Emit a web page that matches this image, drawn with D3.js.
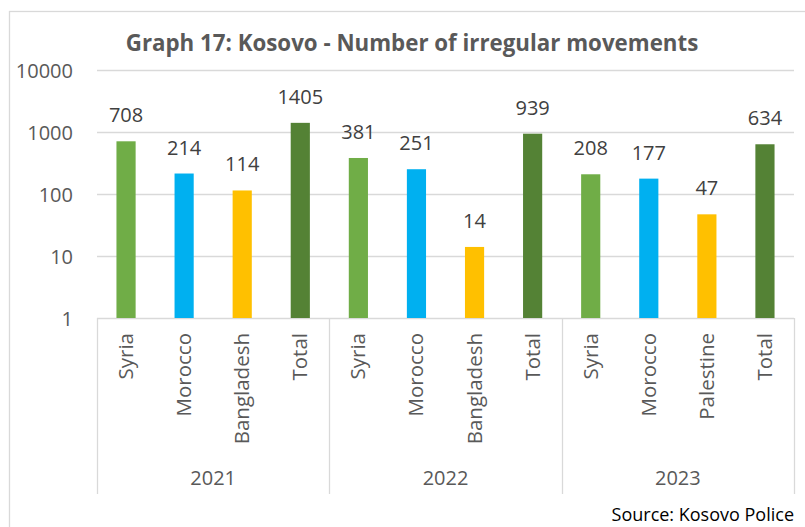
<!DOCTYPE html>
<html>
<head>
<meta charset="utf-8">
<script src="https://cdn.jsdelivr.net/npm/d3@7"></script>
<style>
  body { margin: 0; background: #fff; }
  text { font-family: "Open Sans", sans-serif; }
</style>
</head>
<body>
<div id="chart"></div>
<script>
// data
var years = ["2021", "2022", "2023"];
var countries = ["Syria", "Morocco", "Bangladesh", "Total",
                 "Syria", "Morocco", "Bangladesh", "Total",
                 "Syria", "Morocco", "Palestine", "Total"];
var values = [708, 214, 114, 1405, 381, 251, 14, 939, 208, 177, 47, 634];
var kinds = ["syria", "morocco", "other", "total",
             "syria", "morocco", "other", "total",
             "syria", "morocco", "other", "total"];
var yTicks = [1, 10, 100, 1000, 10000];

var colors = {syria: "#70ad47", morocco: "#00b0f0", other: "#ffc000", total: "#548235"};

var width = 805, height = 527;
var margin = {top: 70, right: 11, bottom: 209, left: 97};
var innerW = width - margin.left - margin.right,
    innerH = height - margin.top - margin.bottom;

var svg = d3.select("#chart").append("svg")
    .attr("width", width)
    .attr("height", height);

// outer chart border
svg.append("rect")
    .attr("x", 9.5).attr("y", 11.5)
    .attr("width", 820).attr("height", 540)
    .attr("fill", "none")
    .attr("stroke", "#d9d9d9")
    .attr("stroke-width", 1.3);

svg.append("text")
    .attr("x", 412).attr("y", 51)
    .attr("text-anchor", "middle")
    .style("font-size", "22.3px")
    .style("font-weight", "bold")
    .attr("fill", "#595959")
    .text("Graph 17: Kosovo - Number of irregular movements");

var g = svg.append("g")
    .attr("transform", "translate(" + margin.left + "," + margin.top + ")");

var idx = d3.range(values.length);
var x = d3.scaleBand().domain(idx).range([0, innerW])
    .paddingInner(0.67).paddingOuter(0.335);
var y = d3.scaleLog().domain([1, 10000]).range([innerH, 0]);

// gridlines
g.selectAll(".grid")
    .data(yTicks)
  .enter().append("line")
    .attr("x1", 0).attr("x2", innerW)
    .attr("y1", function(d) { return Math.round(y(d)) + 0.5; })
    .attr("y2", function(d) { return Math.round(y(d)) + 0.5; })
    .attr("stroke", "#d9d9d9")
    .attr("stroke-width", 1.3);

// y axis labels
var yAxis = d3.axisLeft(y).tickValues(yTicks).tickFormat(d3.format("d")).tickSize(0).tickPadding(24);
g.append("g").call(yAxis)
  .call(function(s) {
    s.select(".domain").remove();
    s.selectAll("text")
      .attr("fill", "#595959")
      .style("font-size", "20px")
      .attr("dy", "0.36em");
  });

// bars
g.selectAll(".bar")
    .data(idx)
  .enter().append("rect")
    .attr("x", function(i) { return x(i); })
    .attr("width", x.bandwidth())
    .attr("y", function(i) { return y(values[i]); })
    .attr("height", function(i) { return innerH - y(values[i]); })
    .attr("fill", function(i) { return colors[kinds[i]]; });

// value labels
g.selectAll(".lbl")
    .data(idx)
  .enter().append("text")
    .attr("x", function(i) { return x(i) + x.bandwidth() / 2; })
    .attr("y", function(i) { return y(values[i]) - 19; })
    .attr("text-anchor", "middle")
    .attr("fill", "#404040")
    .style("font-size", "20px")
    .text(function(i) { return values[i]; });

// group separators
var step = x.step();
d3.range(years.length + 1).forEach(function(k) {
  var xx = Math.round(k * 4 * step) + 0.5;
  g.append("line")
    .attr("x1", xx).attr("x2", xx)
    .attr("y1", innerH).attr("y2", innerH + 176)
    .attr("stroke", "#d9d9d9")
    .attr("stroke-width", 1.3);
});

// category labels
g.selectAll(".cat")
    .data(idx)
  .enter().append("text")
    .attr("transform", function(i) {
      return "translate(" + (x(i) + x.bandwidth() / 2 + 7) + "," + (innerH + 15) + ") rotate(-90)";
    })
    .attr("text-anchor", "end")
    .attr("fill", "#595959")
    .style("font-size", "20.5px")
    .text(function(i) { return countries[i]; });

// year labels
g.selectAll(".yr")
    .data(years)
  .enter().append("text")
    .attr("x", function(d, k) { return (k * 4 + 2) * step; })
    .attr("y", innerH + 167)
    .attr("text-anchor", "middle")
    .attr("fill", "#595959")
    .style("font-size", "20px")
    .text(function(d) { return d; });

svg.append("text")
    .attr("x", 794).attr("y", 521)
    .attr("text-anchor", "end")
    .attr("fill", "#000")
    .style("font-size", "18px")
    .text("Source: Kosovo Police");
</script>
</body>
</html>
